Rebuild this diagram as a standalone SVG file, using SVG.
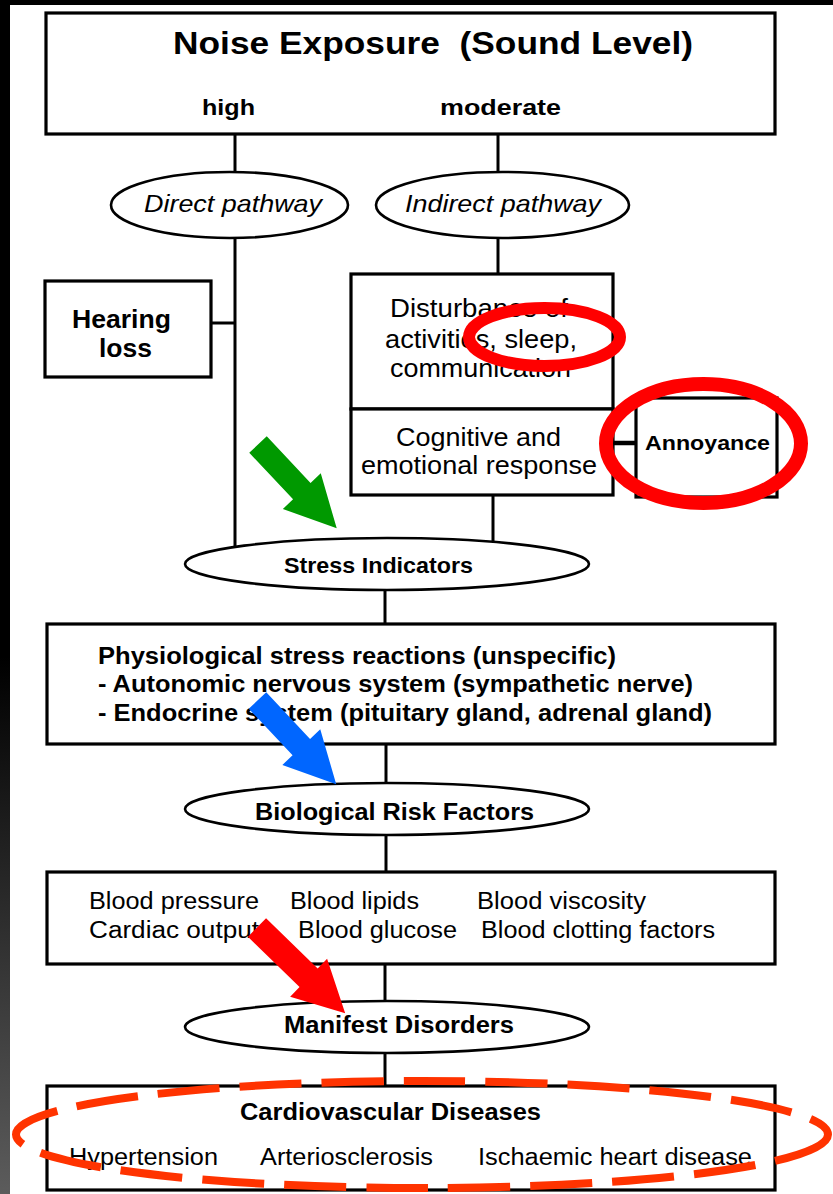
<svg xmlns="http://www.w3.org/2000/svg" width="833" height="1194" viewBox="0 0 833 1194">
<defs>
<linearGradient id="strip" x1="0" y1="0" x2="0" y2="1194" gradientUnits="userSpaceOnUse">
<stop offset="0" stop-color="#000"/>
<stop offset="0.55" stop-color="#000"/>
<stop offset="1" stop-color="#5c5c5c"/>
</linearGradient>
</defs>
<style>
.box{fill:#fff;stroke:#000;stroke-width:3.2}
.ell{fill:#fff;stroke:#000;stroke-width:2.6}
.ln{stroke:#000;stroke-width:3;fill:none}
text{font-family:"Liberation Sans",Arial,Helvetica,sans-serif;fill:#000}
.b{font-weight:bold}
.mark{fill:none;stroke:#ff0000}
</style>
<rect x="0" y="0" width="833" height="1194" fill="#fff"/>
<rect x="0" y="0" width="833" height="5" fill="#000"/>
<rect x="0" y="0" width="10" height="1194" fill="url(#strip)"/>

<g id="connectors">
<line class="ln" x1="235" y1="134" x2="235" y2="172"/>
<line class="ln" x1="235" y1="238" x2="235" y2="548"/>
<line class="ln" x1="211" y1="323" x2="235" y2="323"/>
<line class="ln" x1="498" y1="134" x2="498" y2="172"/>
<line class="ln" x1="498" y1="238" x2="498" y2="274"/>
<line class="ln" x1="493" y1="495" x2="493" y2="543"/>
<line x1="613" y1="443" x2="636" y2="443" stroke="#000" stroke-width="4.5"/>
<line class="ln" x1="385" y1="590" x2="385" y2="624"/>
<line class="ln" x1="386" y1="744" x2="386" y2="783"/>
<line class="ln" x1="386" y1="835" x2="386" y2="872"/>
<line class="ln" x1="385" y1="964" x2="385" y2="1001"/>
<line class="ln" x1="385" y1="1053" x2="385" y2="1086"/>
</g>

<g id="noise-exposure">
<rect class="box" x="46" y="13" width="729" height="121"/>
<text class="b" x="173" y="54" font-size="31" textLength="520" lengthAdjust="spacingAndGlyphs">Noise Exposure &#160;(Sound Level)</text>
<text class="b" x="202" y="115" font-size="22" textLength="53" lengthAdjust="spacingAndGlyphs">high</text>
<text class="b" x="440" y="115" font-size="22" textLength="121" lengthAdjust="spacingAndGlyphs">moderate</text>
</g>

<g id="direct-pathway">
<ellipse class="ell" cx="229.5" cy="205" rx="118.5" ry="33"/>
<text x="144" y="212" font-size="24" font-style="italic" textLength="178" lengthAdjust="spacingAndGlyphs">Direct pathway</text>
</g>

<g id="indirect-pathway">
<ellipse class="ell" cx="502.5" cy="205" rx="126.5" ry="33"/>
<text x="405" y="212" font-size="24" font-style="italic" textLength="196" lengthAdjust="spacingAndGlyphs">Indirect pathway</text>
</g>

<g id="hearing-loss">
<rect class="box" x="45" y="281" width="166" height="96"/>
<text class="b" x="72" y="328" font-size="25" textLength="99" lengthAdjust="spacingAndGlyphs">Hearing</text>
<text class="b" x="99" y="357" font-size="25" textLength="53" lengthAdjust="spacingAndGlyphs">loss</text>
</g>

<g id="disturbance">
<rect class="box" x="351" y="274" width="262" height="135"/>
<text x="390" y="317" font-size="26" textLength="178" lengthAdjust="spacingAndGlyphs">Disturbance of</text>
<text x="385" y="348" font-size="26" textLength="192" lengthAdjust="spacingAndGlyphs">activities, sleep,</text>
<text x="390" y="377" font-size="26" textLength="181" lengthAdjust="spacingAndGlyphs">communication</text>
</g>

<g id="cognitive-response">
<rect class="box" x="351" y="409" width="262" height="86"/>
<text x="396" y="446" font-size="26" textLength="165" lengthAdjust="spacingAndGlyphs">Cognitive and</text>
<text x="361" y="474" font-size="26" textLength="236" lengthAdjust="spacingAndGlyphs">emotional response</text>
</g>

<g id="annoyance">
<rect class="box" x="636" y="398" width="141" height="99"/>
<text class="b" x="645" y="450" font-size="21" textLength="125" lengthAdjust="spacingAndGlyphs">Annoyance</text>
</g>

<g id="stress-indicators">
<ellipse class="ell" cx="387" cy="564" rx="202" ry="26"/>
<text class="b" x="284" y="573" font-size="22" textLength="189" lengthAdjust="spacingAndGlyphs">Stress Indicators</text>
</g>

<g id="physiological-reactions">
<rect class="box" x="47" y="624" width="728" height="120"/>
<text class="b" x="98" y="664" font-size="23" textLength="518" lengthAdjust="spacingAndGlyphs">Physiological stress reactions (unspecific)</text>
<text class="b" x="98" y="692" font-size="23" textLength="595" lengthAdjust="spacingAndGlyphs">- Autonomic nervous system (sympathetic nerve)</text>
<text class="b" x="98" y="721" font-size="23" textLength="614" lengthAdjust="spacingAndGlyphs">- Endocrine system (pituitary gland, adrenal gland)</text>
</g>

<g id="biological-risk-factors">
<ellipse class="ell" cx="387" cy="809" rx="202" ry="26"/>
<text class="b" x="255" y="820" font-size="23" textLength="279" lengthAdjust="spacingAndGlyphs">Biological Risk Factors</text>
</g>

<g id="risk-factors-list">
<rect class="box" x="47" y="872" width="728" height="92"/>
<text x="89" y="909" font-size="23" textLength="170" lengthAdjust="spacingAndGlyphs">Blood pressure</text>
<text x="290" y="909" font-size="23" textLength="129" lengthAdjust="spacingAndGlyphs">Blood lipids</text>
<text x="477" y="909" font-size="23" textLength="169" lengthAdjust="spacingAndGlyphs">Blood viscosity</text>
<text x="89" y="938" font-size="23" textLength="170" lengthAdjust="spacingAndGlyphs">Cardiac output</text>
<text x="298" y="938" font-size="23" textLength="159" lengthAdjust="spacingAndGlyphs">Blood glucose</text>
<text x="481" y="938" font-size="23" textLength="234" lengthAdjust="spacingAndGlyphs">Blood clotting factors</text>
</g>

<g id="manifest-disorders">
<ellipse class="ell" cx="387" cy="1027" rx="202" ry="26"/>
<text class="b" x="284" y="1033" font-size="23" textLength="230" lengthAdjust="spacingAndGlyphs">Manifest Disorders</text>
</g>

<g id="cardiovascular-diseases">
<rect class="box" x="47" y="1086" width="728" height="104"/>
<text class="b" x="240" y="1120" font-size="23" textLength="301" lengthAdjust="spacingAndGlyphs">Cardiovascular Diseases</text>
<text x="69" y="1165" font-size="23" textLength="149" lengthAdjust="spacingAndGlyphs">Hypertension</text>
<text x="260" y="1165" font-size="23" textLength="173" lengthAdjust="spacingAndGlyphs">Arteriosclerosis</text>
<text x="478" y="1165" font-size="23" textLength="274" lengthAdjust="spacingAndGlyphs">Ischaemic heart disease</text>
</g>

<g id="highlights">
<ellipse class="mark" cx="544.5" cy="337" rx="75.5" ry="29" stroke-width="12"/>
<ellipse class="mark" cx="703.5" cy="443.5" rx="97.5" ry="59.5" stroke-width="14"/>
<ellipse cx="422" cy="1134.5" rx="406" ry="53.5" fill="none" stroke="#ff3300" stroke-width="8" stroke-dasharray="62 20"/>
</g>

<g id="arrows">
<polygon fill="#009900" transform="translate(258 444.5) rotate(46.8)" points="0,-12 64,-12 64,-26 115,0 64,26 64,12 0,12"/>
<polygon fill="#0066ff" transform="translate(257.5 700.5) rotate(46.8)" points="0,-12 64,-12 64,-26 115,0 64,26 64,12 0,12"/>
<polygon fill="#ff0000" transform="translate(257 927.5) rotate(44.2)" points="0,-13 72,-13 72,-26.5 123,0 72,26.5 72,13 0,13"/>
</g>
</svg>
